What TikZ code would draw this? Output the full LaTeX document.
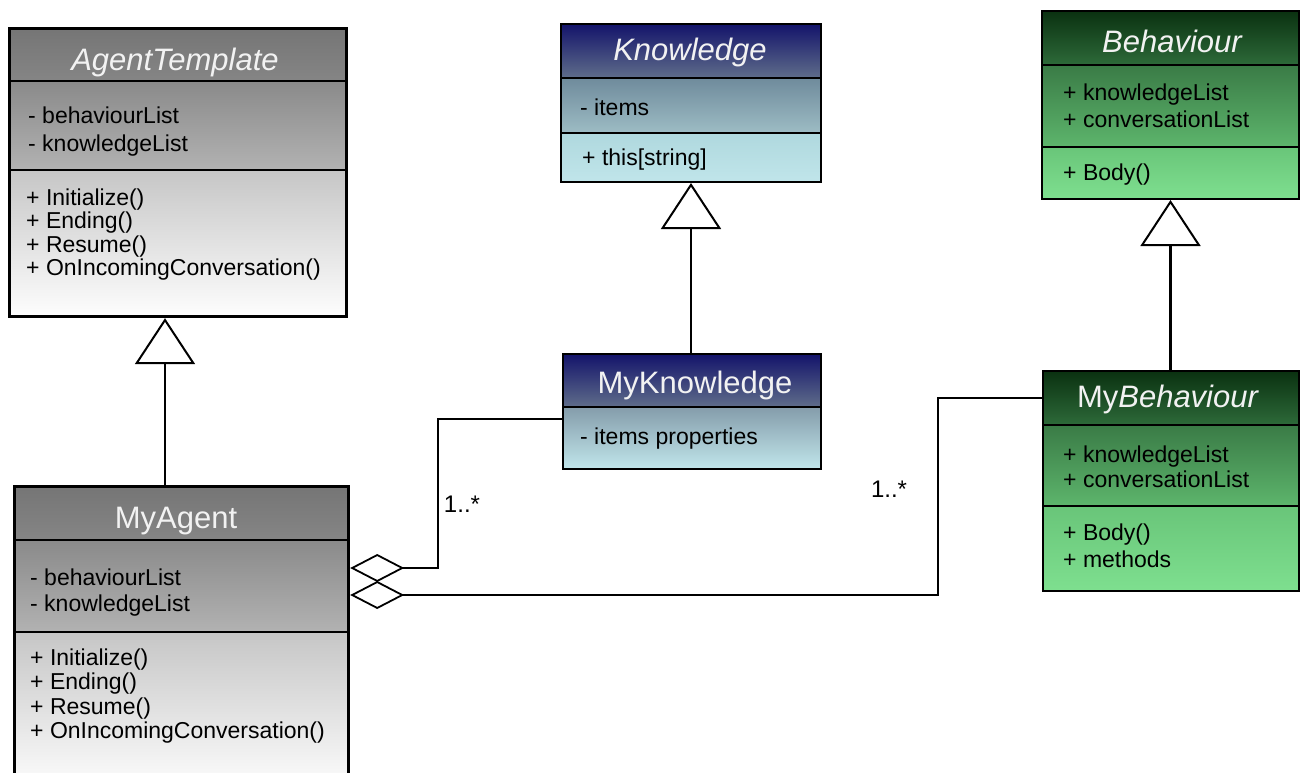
\documentclass[tikz,border=0pt]{standalone}
\usepackage{fontspec}
\setmainfont{Liberation Sans}
\usetikzlibrary{arrows.meta}

% compartment colours: gray (agents), navy (knowledge), green (behaviours)
\definecolor{grayHeadTop}{HTML}{757575}
\definecolor{grayHeadBot}{HTML}{858585}
\definecolor{grayAttrTop}{HTML}{8A8A8A}
\definecolor{grayAttrBot}{HTML}{B2B2B2}
\definecolor{grayMethTop}{HTML}{C6C6C6}
\definecolor{grayMethBot}{HTML}{FDFDFD}
\definecolor{navyHeadTop}{HTML}{12126A}
\definecolor{navyHeadBot}{HTML}{5F6D8A}
\definecolor{navyAttrTop}{HTML}{6F8B9C}
\definecolor{navyAttrBot}{HTML}{9DBCC4}
\definecolor{navyMethTop}{HTML}{AFD8DE}
\definecolor{navyMethBot}{HTML}{C0E5EA}
\definecolor{greenHeadTop}{HTML}{0A3010}
\definecolor{greenHeadBot}{HTML}{2D6A39}
\definecolor{greenAttrTop}{HTML}{3A7B46}
\definecolor{greenAttrBot}{HTML}{5DB56C}
\definecolor{greenMethTop}{HTML}{69C579}
\definecolor{greenMethBot}{HTML}{7EDF8F}
\definecolor{titleText}{HTML}{F2F2F2}

\tikzset{
  classframe/.style={draw=black, line width=2pt, fill=none, inner sep=0pt, anchor=north west},
  heavyframe/.style={classframe, line width=3.2pt},
  divider/.style={draw=black, line width=2pt},
  classname/.style={font=\fontsize{31}{36}\selectfont, text=titleText, inner sep=0pt, anchor=base},
  member/.style={font=\fontsize{23}{26}\selectfont, inner sep=0pt, anchor=base west},
  inherit/.style={line width=2.6pt, -{Triangle[open, fill=white, width=60pt, length=46pt, line width=2pt]}},
  aggregate/.style={line width=2.6pt, {Diamond[open, fill=white, length=54pt, width=28pt, line width=1.8pt]}-},
  multiplicity/.style={font=\fontsize{24}{28}\selectfont, inner sep=1pt},
}

% one node per member line: name prefix, x, first baseline, line skip, lines
\newcommand\memberlines[5]{%
  \foreach \txt [count=\k from 0] in {#5}
    \node[member, name=#1-\k] at (#2, {#3+\k*#4}) {\txt};
}

\begin{document}
\begin{tikzpicture}[x=1pt,y=-1pt]
\useasboundingbox (0,0) rectangle (1300,772);
\clip (0,0) rectangle (1300,772);
\fill[white] (0,0) rectangle (1300,772);

% ---------- AgentTemplate ----------
\shade[top color=grayHeadTop, bottom color=grayHeadBot] (8,27) rectangle (345,81);
\shade[top color=grayAttrTop, bottom color=grayAttrBot] (8,81) rectangle (345,170);
\shade[top color=grayMethTop, bottom color=grayMethBot] (8,170) rectangle (345,315);
\node[heavyframe, minimum width=337pt, minimum height=288pt] (at) at (8,27) {};
\draw[divider] (at.west |- 0,81) -- (at.east |- 0,81);
\draw[divider] (at.west |- 0,170) -- (at.east |- 0,170);
\node[classname] (at-name) at (175,70) {\itshape AgentTemplate};
\memberlines{at-a}{28}{123}{28}{- behaviourList, - knowledgeList}
\memberlines{at-m}{26}{205}{23.5}{+ Initialize(), + Ending(), + Resume(), + OnIncomingConversation()}

% ---------- MyAgent ----------
\shade[top color=grayHeadTop, bottom color=grayHeadBot] (13,485) rectangle (347,540);
\shade[top color=grayAttrTop, bottom color=grayAttrBot] (13,540) rectangle (347,632);
\shade[top color=grayMethTop, bottom color=grayMethBot] (13,632) rectangle (347,790);
\node[heavyframe, minimum width=334pt, minimum height=305pt] (ma) at (13,485) {};
\draw[divider] (ma.west |- 0,540) -- (ma.east |- 0,540);
\draw[divider] (ma.west |- 0,632) -- (ma.east |- 0,632);
\node[classname] (ma-name) at (176,528) {MyAgent};
\memberlines{ma-a}{30}{585}{26}{- behaviourList, - knowledgeList}
\memberlines{ma-m}{30}{665}{24.5}{+ Initialize(), + Ending(), + Resume(), + OnIncomingConversation()}

% ---------- Knowledge ----------
\shade[top color=navyHeadTop, bottom color=navyHeadBot] (560,23) rectangle (820,78);
\shade[top color=navyAttrTop, bottom color=navyAttrBot] (560,78) rectangle (820,133);
\shade[top color=navyMethTop, bottom color=navyMethBot] (560,133) rectangle (820,181);
\node[classframe, minimum width=260pt, minimum height=158pt] (kn) at (560,23) {};
\draw[divider] (kn.west |- 0,78) -- (kn.east |- 0,78);
\draw[divider] (kn.west |- 0,133) -- (kn.east |- 0,133);
\node[classname] (kn-name) at (690,60) {\itshape Knowledge};
\memberlines{kn-a}{580}{115}{24}{- items}
\memberlines{kn-m}{582}{165}{24}{+ this[string]}

% ---------- MyKnowledge ----------
\shade[top color=navyHeadTop, bottom color=navyHeadBot] (562,353) rectangle (820,407);
\shade[top color=navyAttrTop!85!white, bottom color=navyMethBot] (562,407) rectangle (820,468);
\node[classframe, minimum width=258pt, minimum height=115pt] (mk) at (562,353) {};
\draw[divider] (mk.west |- 0,407) -- (mk.east |- 0,407);
\node[classname] (mk-name) at (695,393) {MyKnowledge};
\memberlines{mk-a}{580}{444}{24}{- items properties}

% ---------- Behaviour ----------
\shade[top color=greenHeadTop, bottom color=greenHeadBot] (1041,10) rectangle (1298,65);
\shade[top color=greenAttrTop, bottom color=greenAttrBot] (1041,65) rectangle (1298,147);
\shade[top color=greenMethTop, bottom color=greenMethBot] (1041,147) rectangle (1298,198);
\node[classframe, minimum width=257pt, minimum height=188pt] (bh) at (1041,10) {};
\draw[divider] (bh.west |- 0,65) -- (bh.east |- 0,65);
\draw[divider] (bh.west |- 0,147) -- (bh.east |- 0,147);
\node[classname] (bh-name) at (1172,52) {\itshape Behaviour};
\memberlines{bh-a}{1063}{100}{27}{+ knowledgeList, + conversationList}
\memberlines{bh-m}{1063}{180}{26}{+ Body()}

% ---------- MyBehaviour ----------
\shade[top color=greenHeadTop, bottom color=greenHeadBot] (1042,370) rectangle (1298,425);
\shade[top color=greenAttrTop, bottom color=greenAttrBot] (1042,425) rectangle (1298,506);
\shade[top color=greenMethTop, bottom color=greenMethBot] (1042,506) rectangle (1298,590);
\node[classframe, minimum width=256pt, minimum height=220pt] (mb) at (1042,370) {};
\draw[divider] (mb.west |- 0,425) -- (mb.east |- 0,425);
\draw[divider] (mb.west |- 0,506) -- (mb.east |- 0,506);
\node[classname] (mb-name) at (1168,407) {My\textit{Behaviour}};
\memberlines{mb-a}{1063}{462}{25}{+ knowledgeList, + conversationList}
\memberlines{mb-m}{1063}{540}{27}{+ Body(), + methods}

% ---------- generalisations ----------
\coordinate (atjoin) at (165,0);
\draw[inherit] (ma.north -| atjoin) -- (at.south -| atjoin);
\draw[inherit] (mk.north -| kn.south) -- (kn.south);
\draw[inherit] (mb.north -| bh.south) -- (bh.south);

% ---------- aggregations ----------
\coordinate (kbend) at (438,419);
\coordinate (bbend) at (938,398);
\draw[aggregate] (ma.east |- 0,568) -| (kbend) -- (mk.west |- kbend);
\draw[aggregate] (ma.east |- 0,595) -| (bbend) -- (mb.west |- bbend);
\node[multiplicity] (mult-k) at (462,504) {1..*};
\node[multiplicity] (mult-b) at (889,489) {1..*};
\end{tikzpicture}
\end{document}
